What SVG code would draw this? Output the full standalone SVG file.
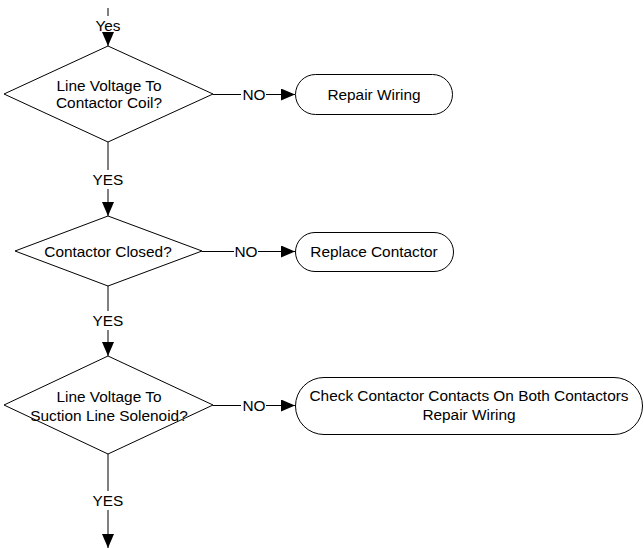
<svg xmlns="http://www.w3.org/2000/svg" width="644" height="548" viewBox="0 0 644 548">
<style>
.shape{fill:#fff;stroke:#000;stroke-width:1}
.conn{fill:none;stroke:#000;stroke-width:1}
text{font-family:"Liberation Sans",Arial,sans-serif;font-size:15.4px;fill:#000;text-anchor:middle}
</style>
<defs>
<marker id="arr" markerUnits="userSpaceOnUse" markerWidth="14" markerHeight="12" refX="14" refY="6" orient="auto">
<path d="M0,0 L14,6 L0,12 z" fill="#000"/>
</marker>
</defs>
<rect width="644" height="548" fill="#fff"/>
<g id="connectors">
<path class="conn" d="M108,8 V16"/>
<path class="conn" d="M108,33 V46" marker-end="url(#arr)"/>
<text x="108" y="31">Yes</text>
<path class="conn" d="M213,94.5 H241"/>
<path class="conn" d="M266,94.5 H295" marker-end="url(#arr)"/>
<text x="254" y="100">NO</text>
<path class="conn" d="M108,142 V170"/>
<path class="conn" d="M108,189 V216" marker-end="url(#arr)"/>
<text x="108" y="185">YES</text>
<path class="conn" d="M202,251.5 H234"/>
<path class="conn" d="M258,251.5 H295" marker-end="url(#arr)"/>
<text x="246" y="257">NO</text>
<path class="conn" d="M108,286 V311"/>
<path class="conn" d="M108,330 V356" marker-end="url(#arr)"/>
<text x="108" y="326">YES</text>
<path class="conn" d="M213,405.5 H241"/>
<path class="conn" d="M266,405.5 H295" marker-end="url(#arr)"/>
<text x="254" y="411">NO</text>
<path class="conn" d="M108,454 V491"/>
<path class="conn" d="M108,510 V548" marker-end="url(#arr)"/>
<text x="108" y="506">YES</text>
</g>
<g id="d1">
<polygon class="shape" points="108,46 213,94 108,142 4,94"/>
<text x="109" y="91">Line Voltage To</text>
<text x="109" y="108">Contactor Coil?</text>
</g>
<g id="t1">
<rect class="shape" x="295.5" y="74.5" width="157" height="40" rx="20"/>
<text x="374" y="100">Repair Wiring</text>
</g>
<g id="d2">
<polygon class="shape" points="108,216 202,251 108,286 15,251"/>
<text x="108" y="257">Contactor Closed?</text>
</g>
<g id="t2">
<rect class="shape" x="295.5" y="232.5" width="158" height="39" rx="19.5"/>
<text x="374" y="257">Replace Contactor</text>
</g>
<g id="d3">
<polygon class="shape" points="108,356 213,405 108,454 4,405"/>
<text x="109" y="402">Line Voltage To</text>
<text x="109" y="421">Suction Line Solenoid?</text>
</g>
<g id="t3">
<rect class="shape" x="295.5" y="377.5" width="347" height="57" rx="28.5"/>
<text x="469" y="401">Check Contactor Contacts On Both Contactors</text>
<text x="469" y="420">Repair Wiring</text>
</g>
</svg>
